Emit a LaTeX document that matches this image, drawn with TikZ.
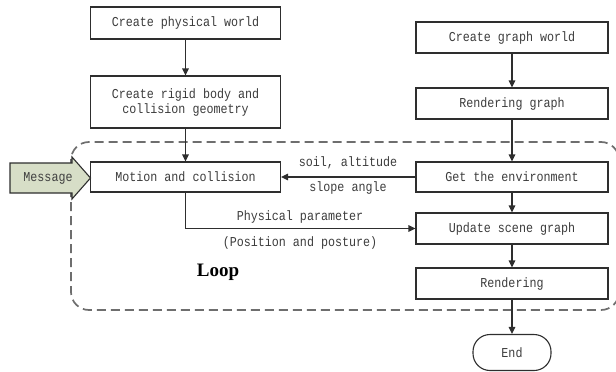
\documentclass[tikz,border=0pt]{standalone}
\usepackage{fontspec}
\setmonofont[FakeStretch=0.86]{Liberation Mono}
\newfontfamily\loopfont{Liberation Serif}
\usetikzlibrary{arrows.meta}
\definecolor{boxline}{HTML}{2E2E2E}
\definecolor{txt}{HTML}{3C3C3C}
\definecolor{dashc}{HTML}{6E6E6E}
\definecolor{msgfill}{HTML}{D7DEC7}
\tikzset{
  stepbox/.style={draw=boxline, line width=1.1pt, fill=white, minimum width=190pt,
    inner sep=0pt, align=center, text=txt, font=\ttfamily\fontsize{13.6}{16}\selectfont},
  endbox/.style={draw=boxline, line width=1.1pt, rounded corners=17pt, minimum width=78pt,
    minimum height=36pt, inner sep=0pt, text=txt, font=\ttfamily\fontsize{13.6}{16}\selectfont},
  lbl/.style={text=txt, inner sep=0pt, font=\ttfamily\fontsize{13.6}{16}\selectfont},
  conn/.style={draw=boxline, line width=1.1pt, -{Triangle[length=7pt,width=6.5pt]}},
}
\begin{document}
\begin{tikzpicture}[x=1pt,y=-1pt]
\useasboundingbox (0,0) rectangle (616,372);
% dashed loop region
\draw[dashc, line width=1.7pt, dash pattern=on 9pt off 5pt, rounded corners=18pt]
  (71,142) rectangle (619,310);
% boxes
\node[stepbox, minimum height=32pt] (cpw) at (185.5,23) {Create physical world};
\node[stepbox, minimum height=52pt] (crb) at (185.5,102) {Create rigid body and\\[-1pt]collision geometry};
\node[stepbox, minimum height=30pt] (mac) at (185.5,177) {Motion and collision};
\node[stepbox, minimum height=31pt, minimum width=192pt] (cgw) at (512,37.5) {Create graph world};
\node[stepbox, minimum height=31pt, minimum width=192pt] (rg) at (512,103.5) {Rendering graph};
\node[stepbox, minimum height=30pt, minimum width=192pt] (gte) at (512,177) {Get the environment};
\node[stepbox, minimum height=31pt, minimum width=192pt] (usg) at (512,228.5) {Update scene graph};
\node[stepbox, minimum height=31pt, minimum width=192pt] (ren) at (512,283.5) {Rendering};
\node[endbox] (end) at (512,352.5) {End};
% message arrow
\draw[draw=boxline, line width=1.1pt, fill=msgfill, line join=miter]
  (10,163) -- (72,163) -- (72,157) -- (90.5,178) -- (72,199) -- (72,193) -- (10,193) -- cycle;
\node[lbl, text=black!75] (msg) at (48,178) {Message};
% connectors
\draw[conn] (cpw) -- (crb);
\draw[conn] (crb) -- (mac);
\draw[conn] (cgw) -- (rg);
\draw[conn] (rg) -- (gte);
\draw[conn] (gte) -- (mac);
\draw[conn] (gte) -- (usg);
\draw[conn] (mac.south) |- (usg.west);
\draw[conn] (usg) -- (ren);
\draw[conn] (ren) -- (end);
% labels
\node[lbl] (l1) at (348,163) {soil, altitude};
\node[lbl] (l2) at (348,188) {slope angle};
\node[lbl] (l3) at (300,217) {Physical parameter};
\node[lbl] (l4) at (300,243) {(Position and posture)};
\node[text=black, inner sep=0pt, font=\loopfont\bfseries\fontsize{19}{22}\selectfont] (loop) at (218,272) {Loop};
\end{tikzpicture}
\end{document}
